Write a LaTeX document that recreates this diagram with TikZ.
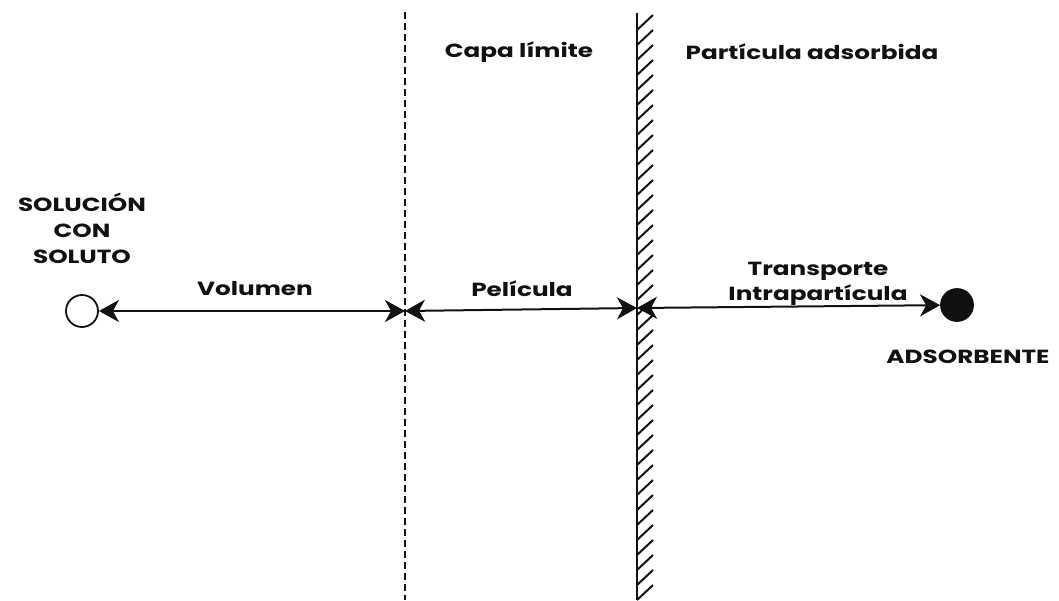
\documentclass[tikz,border=0pt]{standalone}
\usepackage{fontspec}
\setmainfont{Poppins}[FakeStretch=1.3]
\usetikzlibrary{arrows.meta}
\definecolor{ink}{HTML}{111111}

\begin{document}
\begin{tikzpicture}[x=1pt, y=-1pt,
          lbl/.style={font=\fontsize{19}{22}\selectfont\bfseries, text=ink, inner sep=0pt, align=center},
          punta/.tip={Stealth[inset=6pt,length=20pt,width=22pt]},
          flecha/.style={ink, line width=2pt, punta-punta},
          bola/.style={circle, draw=ink, line width=1.8pt, minimum size=32pt, inner sep=0pt}]
        \useasboundingbox (0,0) rectangle (1059,600);
        % limite de la capa
        \draw[ink, line width=1.6pt, dash pattern=on 7pt off 4pt] (405,12) -- (405,600);
        % pared de la particula
        \draw[ink, line width=2.8pt] (637,13) -- (637,600);
        \foreach \y in {30,45,...,600} \draw[ink, line width=2pt] (637,\y) -- ++(16,-15);
        \node[lbl] (capa) at (519,52) {Capa límite};
        \node[lbl] (part) at (812,52) {Partícula adsorbida};
        \node[bola, fill=white] (sol) at (82,311) {};
        \node[bola, fill=ink] (ads) at (957,305) {};
        \coordinate (lim) at (405,311);
        \coordinate (pared) at (637,308);
        \node[lbl] (solucion) at (82,228) {SOLUCIÓN\\[4pt]CON\\[4pt]SOLUTO};
        \node[lbl] (adsor) at (968,357) {ADSORBENTE};
        \draw[flecha] (sol) -- (lim);
        \draw[flecha] (lim) -- (pared);
        \draw[flecha] (pared) -- (ads);
        \node[lbl] (vol) at (255,289) {Volumen};
        \node[lbl] (pel) at (522,289) {Película};
        \node[lbl] (trans) at (818,284) {Transporte\\[3pt]Intrapartícula};
      \end{tikzpicture}
\end{document}
